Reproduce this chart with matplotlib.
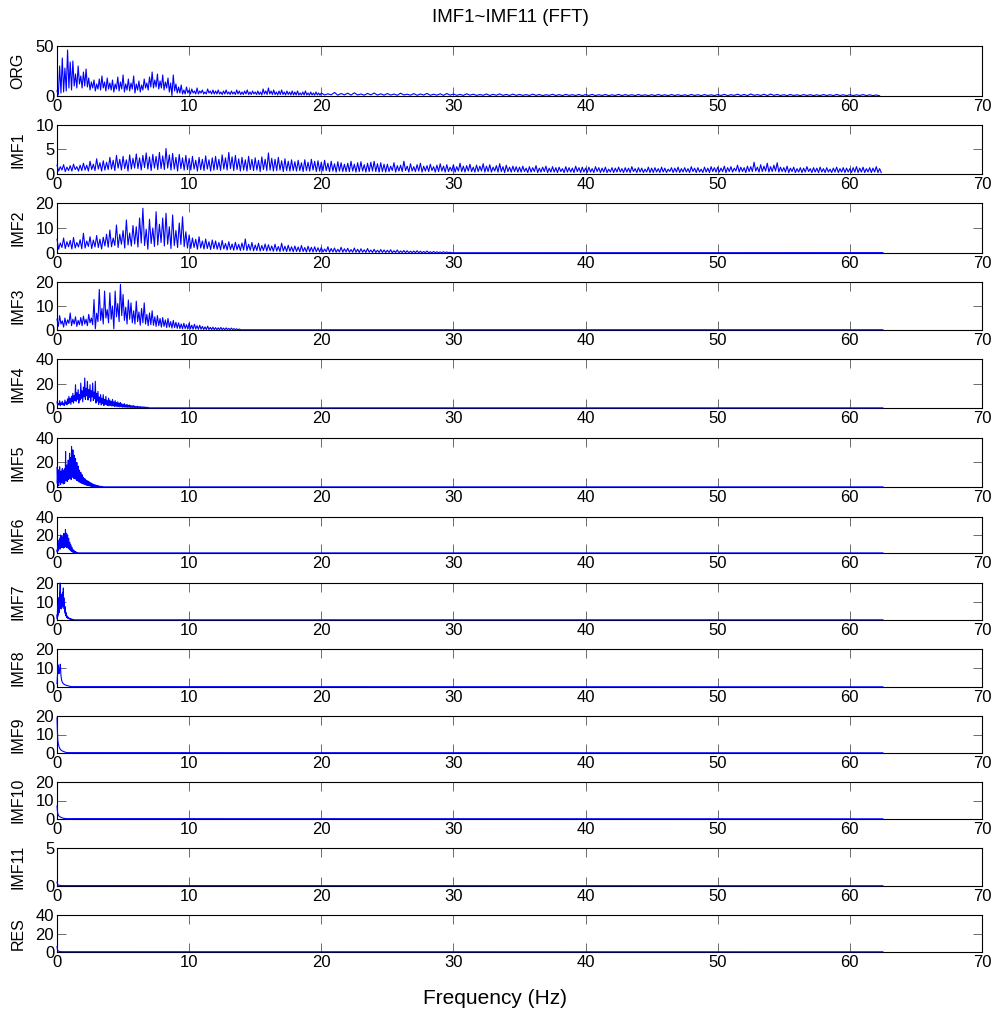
import numpy as np
import matplotlib
matplotlib.use("Agg")
import matplotlib.pyplot as plt

plt.rcParams['font.family'] = ['Liberation Sans', 'DejaVu Sans']

# ---------------- data ----------------
FMAX = 62.5
PANEL_NAMES = ["ORG", "IMF1", "IMF2", "IMF3", "IMF4", "IMF5", "IMF6",
               "IMF7", "IMF8", "IMF9", "IMF10", "IMF11", "RES"]
YMAX = [50, 10, 20, 20, 40, 40, 40, 20, 20, 20, 20, 5, 40]
YTICKS = [[0, 50], [0, 5, 10], [0, 10, 20], [0, 10, 20], [0, 20, 40],
          [0, 20, 40], [0, 20, 40], [0, 10, 20], [0, 10, 20], [0, 10, 20],
          [0, 10, 20], [0, 5], [0, 20, 40]]
XTICKS = [0, 10, 20, 30, 40, 50, 60, 70]

# ORG: peaks / troughs every 0.2 Hz from 0 to 20 Hz, then 0.5 Hz to 62.5 Hz
ORG_STEP = 0.2
ORG_HI = [5, 30, 38, 28, 46, 34, 35, 22, 30, 20,
          24, 27, 18, 14, 16, 12, 17, 20, 14, 18,
          13, 16, 12, 19, 14, 21, 12, 17, 13, 20,
          12, 15, 11, 17, 13, 19, 24, 16, 22, 15,
          21, 14, 18, 13, 21, 12, 9, 11, 6, 9,
          6, 7, 5, 8, 5, 6, 4, 7, 5, 6,
          5, 6, 4, 5, 6, 4, 5, 4, 6, 5,
          4, 5, 6, 4, 5, 4, 5, 4, 7, 5,
          8, 5, 6, 4, 5, 6, 4, 5, 4, 5,
          4, 5, 3, 4, 5, 3, 4, 3, 4, 3]
ORG_LO = [1, 3, 4, 5, 8, 6, 10, 8, 12, 8,
          10, 9, 6, 8, 5, 7, 6, 8, 5, 7,
          6, 4, 7, 5, 7, 4, 6, 5, 7, 3,
          6, 4, 6, 8, 6, 9, 8, 9, 7, 8,
          6, 8, 4, 0.5, 5, 3, 3, 2, 2, 3,
          2, 3, 2, 2, 3, 2, 2, 3, 2, 2,
          2, 2, 1.5, 2, 2, 1.5, 2, 1.5, 2, 1.5,
          1.5, 2, 1.5, 1.5, 2, 1.5, 1.5, 1, 2, 1.5,
          2, 1.5, 1.5, 1, 1.5, 1.5, 1, 1.5, 1, 1,
          1, 1, 1, 1, 1, 0.8, 1, 0.8, 1, 0.8]
ORG_TAIL_HI = [3.0, 2.2, 3.5, 2.5, 2.8, 3.2, 2.0, 2.6, 3.0, 2.2,
               2.5, 2.0, 2.8, 1.8, 2.4, 2.0, 2.6, 1.8, 2.2, 2.5,
               2.0, 1.6, 2.2, 1.8, 1.5, 2.0, 1.7, 2.1, 1.6, 1.9,
               1.6, 1.4, 1.8, 1.5, 1.3, 1.7, 1.4, 1.6, 1.3, 1.5,
               1.4, 1.6, 1.3, 1.5, 1.2, 1.6, 1.4, 1.3, 1.5, 1.2,
               1.3, 1.5, 1.2, 1.4, 1.3, 1.2, 1.5, 1.3, 1.4, 1.2,
               1.4, 1.6, 1.3, 1.8, 1.5, 2.0, 1.4, 1.7, 1.9, 1.5,
               1.3, 1.5, 1.2, 1.4, 1.3, 1.2, 1.4, 1.3, 1.5, 1.2,
               1.3, 1.2, 1.4, 1.2, 1.0]
ORG_TAIL_LO = [1.0, 1.2, 0.8, 1.1, 0.9, 1.0, 0.8, 1.1, 0.9, 0.8,
               0.9, 0.7, 1.0, 0.8, 0.7, 0.9, 0.7, 0.8, 0.6, 0.8,
               0.7, 0.6, 0.8, 0.6, 0.7, 0.5, 0.7, 0.6, 0.5, 0.6,
               0.6, 0.5, 0.6, 0.4, 0.6, 0.5, 0.4, 0.6, 0.5, 0.4,
               0.5, 0.4, 0.5, 0.4, 0.5, 0.4, 0.5, 0.4, 0.5, 0.4,
               0.4, 0.5, 0.4, 0.5, 0.4, 0.4, 0.5, 0.4, 0.5, 0.4,
               0.5, 0.4, 0.6, 0.5, 0.4, 0.6, 0.5, 0.4, 0.6, 0.5,
               0.4, 0.5, 0.4, 0.5, 0.4, 0.4, 0.5, 0.4, 0.5, 0.4,
               0.4, 0.5, 0.4, 0.4, 0.3]

# IMF1: 0.25 Hz from 0 to 25 Hz, then 0.25 Hz to 62.5 Hz
IMF1_STEP = 0.25
IMF1_HI = [1.8, 1.5, 1.9, 1.4, 1.7, 2.0, 1.5, 1.8,
           2.2, 1.8, 2.6, 2.0, 3.1, 2.3, 2.7, 2.4,
           3.4, 2.8, 3.8, 3.0, 3.6, 2.9, 3.9, 3.2,
           4.1, 3.3, 3.8, 4.3, 3.5, 4.0, 3.6, 4.4,
           3.7, 5.2, 3.9, 4.2, 3.4, 4.0, 3.3, 3.8,
           3.2, 3.6, 2.8, 3.4, 3.0, 3.7, 2.9, 3.3,
           3.6, 3.0, 3.9, 3.3, 4.4, 3.5, 3.8, 3.1,
           3.4, 2.9, 3.6, 3.0, 3.3, 2.8, 3.5, 3.0,
           4.3, 3.2, 3.0, 3.4, 2.7, 3.1, 2.6, 2.9,
           2.5, 2.8, 2.3, 2.9, 2.4, 3.0, 2.6, 2.7,
           2.4, 2.8, 2.2, 2.6, 2.1, 2.5, 2.3, 2.0,
           2.2, 2.6, 2.0, 2.3, 2.5, 1.9, 2.2, 2.4,
           2.6, 2.1, 2.3, 2.0]
IMF1_LO = [0.6, 0.8, 0.5, 0.7, 0.6, 0.9, 0.6, 0.7,
           0.8, 0.6, 0.9, 0.7, 1.0, 0.6, 0.8, 0.9,
           1.0, 0.7, 1.2, 0.8, 1.1, 0.6, 1.0, 1.2,
           1.1, 0.8, 1.3, 1.0, 0.7, 1.2, 0.9, 1.1,
           0.9, 1.2, 0.8, 1.0, 0.6, 1.1, 0.8, 0.9,
           0.8, 1.0, 0.6, 0.9, 0.7, 1.0, 0.6, 0.8,
           0.9, 0.7, 1.0, 0.8, 1.1, 0.7, 0.9, 0.6,
           0.8, 0.6, 0.9, 0.7, 0.8, 0.5, 0.9, 0.7,
           0.8, 0.6, 0.7, 0.8, 0.5, 0.7, 0.6, 0.7,
           0.6, 0.7, 0.5, 0.7, 0.6, 0.8, 0.5, 0.6,
           0.6, 0.7, 0.5, 0.6, 0.4, 0.6, 0.5, 0.5,
           0.5, 0.6, 0.4, 0.5, 0.6, 0.4, 0.5, 0.6,
           0.5, 0.4, 0.5, 0.4]
IMF1_TAIL_HI = [2.0, 1.6, 2.3, 1.7, 1.8, 2.6, 1.6, 2.1, 1.5, 1.9,
                2.2, 1.6, 1.7, 2.0, 1.5, 1.8, 2.1, 1.6, 1.9, 1.4,
                1.9, 1.5, 2.2, 1.6, 1.7, 2.0, 1.4, 1.8, 1.6, 2.1,
                1.6, 1.9, 1.4, 1.7, 2.1, 1.5, 1.8, 1.4, 1.6, 1.5,
                1.4, 1.6, 1.2, 1.5, 1.3, 1.7, 1.2, 1.4, 1.6, 1.2,
                1.5, 1.3, 1.4, 1.1, 1.5, 1.3, 1.2, 1.6, 1.3, 1.4,
                1.2, 1.4, 1.1, 1.5, 1.3, 1.2, 1.4, 1.0, 1.3, 1.2,
                1.4, 1.1, 1.3, 1.2, 1.5, 1.1, 1.3, 1.2, 1.0, 1.4,
                1.2, 1.3, 1.1, 1.4, 1.2, 1.0, 1.3, 1.2, 1.4, 1.1,
                1.3, 1.1, 1.5, 1.2, 1.3, 1.0, 1.4, 1.2, 1.5, 1.3,
                1.4, 1.2, 1.6, 1.3, 1.5, 1.2, 1.8, 1.4, 1.3, 1.6,
                1.5, 2.4, 1.4, 1.9, 1.6, 2.2, 1.5, 1.8, 2.3, 1.4,
                1.3, 1.6, 1.2, 1.4, 1.1, 1.3, 1.2, 1.5, 1.1, 1.3,
                1.2, 1.4, 1.1, 1.3, 1.0, 1.2, 1.4, 1.1, 1.3, 1.2,
                1.1, 1.3, 1.5, 1.2, 1.4, 1.1, 1.3, 1.2, 1.5, 1.1]
IMF1_TAIL_LO = [0.5, 0.7, 0.4, 0.6, 0.5, 0.7, 0.4, 0.6, 0.5, 0.6,
                0.4, 0.6, 0.5, 0.7, 0.4, 0.5, 0.6, 0.4, 0.5, 0.6,
                0.4, 0.6, 0.5, 0.4, 0.6, 0.5, 0.4, 0.5, 0.6, 0.4,
                0.5, 0.4, 0.6, 0.4, 0.5, 0.3, 0.5, 0.4, 0.5, 0.4,
                0.4, 0.5, 0.3, 0.4, 0.5, 0.3, 0.4, 0.5, 0.3, 0.4,
                0.4, 0.3, 0.5, 0.3, 0.4, 0.4, 0.3, 0.5, 0.3, 0.4,
                0.3, 0.4, 0.3, 0.5, 0.3, 0.4, 0.3, 0.4, 0.3, 0.4,
                0.4, 0.3, 0.4, 0.3, 0.5, 0.3, 0.4, 0.3, 0.4, 0.3,
                0.3, 0.4, 0.3, 0.4, 0.3, 0.5, 0.3, 0.4, 0.3, 0.4,
                0.4, 0.3, 0.5, 0.3, 0.4, 0.3, 0.4, 0.3, 0.5, 0.4,
                0.4, 0.5, 0.3, 0.5, 0.4, 0.6, 0.4, 0.5, 0.3, 0.5,
                0.5, 0.6, 0.4, 0.5, 0.6, 0.4, 0.5, 0.6, 0.4, 0.5,
                0.4, 0.3, 0.5, 0.3, 0.4, 0.3, 0.4, 0.5, 0.3, 0.4,
                0.3, 0.4, 0.3, 0.4, 0.3, 0.4, 0.3, 0.4, 0.3, 0.4,
                0.3, 0.4, 0.3, 0.4, 0.3, 0.4, 0.3, 0.4, 0.3, 0.3]

# IMF2: 0.25 Hz from 0 to 30 Hz, then flat
IMF2_STEP = 0.25
IMF2_HI = [5.5, 4.0, 6.0, 4.5, 5.0, 6.2, 4.2, 5.3,
           7.9, 4.8, 6.5, 5.2, 7.0, 5.5, 6.3, 7.5,
           9.2, 6.0, 11.2, 7.5, 9.0, 13.2, 8.0, 11.0,
           10.5, 14.0, 17.9, 9.5, 13.5, 10.0, 16.5, 11.5,
           14.0, 15.9, 10.5, 15.2, 9.0, 12.0, 14.5, 8.5,
           7.2, 6.0, 5.5, 6.5, 4.8, 5.6, 4.5, 5.2,
           4.8, 4.2, 5.0, 3.8, 4.5, 3.6, 4.3, 3.5,
           4.0, 5.6, 3.5, 4.2, 3.2, 3.9, 3.0, 3.6,
           3.3, 2.8, 3.5, 2.6, 3.9, 2.7, 3.1, 2.5,
           2.8, 2.4, 3.0, 2.2, 2.7, 2.3, 2.5, 2.1]
IMF2_LO = [1.5, 2.2, 1.8, 2.5, 1.6, 2.0, 2.4, 1.7,
           2.0, 2.6, 1.8, 2.4, 2.2, 1.6, 2.8, 2.3,
           2.5, 3.0, 2.2, 3.5, 2.0, 3.2, 2.8, 3.6,
           2.4, 4.0, 3.0, 1.5, 3.8, 2.6, 3.2, 4.2,
           2.8, 3.5, 1.8, 3.0, 2.2, 3.4, 2.5, 2.0,
           1.8, 2.2, 1.5, 2.0, 1.6, 1.8, 1.4, 1.7,
           1.5, 1.3, 1.6, 1.2, 1.4, 1.1, 1.3, 1.0,
           1.2, 1.0, 1.1, 0.9, 1.0, 0.8, 1.0, 0.8,
           0.9, 0.7, 0.8, 0.6, 0.8, 0.6, 0.7, 0.5,
           0.6, 0.5, 0.6, 0.4, 0.5, 0.4, 0.5, 0.4]
IMF2_TAIL_HI = [2.2, 1.6, 2.5, 1.8, 2.0, 1.5, 2.3, 1.7, 1.9, 1.4,
                2.0, 1.5, 1.7, 1.3, 1.8, 1.2, 1.5, 1.1, 1.4, 1.2,
                1.1, 1.3, 0.9, 1.2, 0.8, 1.0, 0.9, 0.7, 0.8, 0.9,
                0.7, 0.6, 0.8, 0.5, 0.6, 0.5, 0.4, 0.5, 0.4, 0.3]
IMF2_TAIL_LO = [0.4, 0.5, 0.3, 0.4, 0.3, 0.4, 0.3, 0.4, 0.3, 0.3,
                0.3, 0.2, 0.3, 0.2, 0.3, 0.2, 0.2, 0.2, 0.2, 0.2,
                0.2, 0.1, 0.2, 0.1, 0.2, 0.1, 0.1, 0.1, 0.1, 0.1,
                0.1, 0.1, 0.1, 0.1, 0.1, 0.1, 0.1, 0.1, 0.1, 0.1]
IMF2_TAIL_END = 30.0
IMF2_FLOOR = 0.15

# IMF3: 0.2 Hz from 0 to 14 Hz
IMF3_STEP = 0.2
IMF3_HI = [4.5, 6.0, 3.8, 5.0, 4.2, 7.1, 4.5, 5.5, 4.0, 5.2,
           5.8, 4.5, 6.5, 5.0, 12.7, 7.0, 16.9, 9.0, 16.2, 8.5,
           15.5, 10.0, 16.2, 11.0, 19.0, 14.8, 9.5, 12.5, 11.3, 8.0,
           12.0, 7.5, 9.0, 11.3, 6.5, 7.1, 8.0, 5.5, 6.0, 4.8,
           5.2, 4.2, 4.8, 3.5, 4.0, 3.2, 3.0, 2.5, 2.8, 2.2,
           2.9, 2.0, 2.4, 1.8, 2.0, 1.5, 1.3, 1.6, 1.1, 1.2,
           1.0, 0.9, 1.1, 0.8, 0.9, 0.7, 0.8, 0.6, 0.5, 0.4]
IMF3_LO = [1.5, 2.5, 1.2, 2.0, 2.8, 1.8, 2.5, 1.5, 2.2, 1.8,
           2.5, 1.8, 3.0, 2.2, 0.5, 3.5, 4.0, 2.5, 5.0, 3.0,
           4.5, 0.5, 5.5, 3.5, 6.0, 4.0, 2.5, 4.5, 3.0, 2.5,
           3.5, 2.0, 3.0, 2.5, 1.8, 2.2, 2.0, 1.5, 1.8, 1.2,
           1.5, 1.0, 1.2, 0.8, 1.0, 0.7, 0.6, 0.5, 0.6, 0.4,
           0.5, 0.3, 0.4, 0.3, 0.3, 0.2, 0.2, 0.2, 0.2, 0.1,
           0.1, 0.1, 0.1, 0.1, 0.1, 0.1, 0.1, 0.1, 0.1, 0.1]
IMF3_FLOOR = 0.1

# IMF4: 0.1 Hz from 0 to 7 Hz
IMF4_STEP = 0.1
IMF4_HI = [5.0, 3.5, 6.0, 4.2, 5.5, 4.0, 6.5, 5.0, 7.5, 9.5,
           8.0, 9.5, 12.0, 10.0, 19.0, 12.5, 15.0, 11.0, 20.4, 14.0,
           17.0, 24.5, 16.0, 21.8, 15.0, 19.0, 14.0, 20.4, 13.0, 21.8,
           12.0, 13.6, 9.0, 11.0, 8.0, 10.9, 7.0, 9.5, 6.0, 8.0,
           6.5, 5.5, 7.0, 5.0, 6.0, 4.5, 5.0, 4.0, 4.5, 3.5,
           3.0, 3.5, 2.5, 3.0, 2.2, 2.5, 2.0, 1.8, 2.0, 1.5,
           1.3, 1.5, 1.1, 1.2, 0.9, 1.0, 0.8, 0.7, 0.6, 0.5]
IMF4_LO = [2.0, 2.8, 1.8, 3.0, 2.5, 2.0, 3.2, 2.5, 3.5, 4.0,
           3.0, 5.0, 4.0, 6.0, 5.5, 7.0, 4.0, 6.5, 8.0, 5.0,
           9.0, 7.0, 10.0, 6.5, 8.5, 5.5, 9.0, 6.0, 7.5, 4.0,
           5.5, 3.0, 4.5, 2.5, 3.5, 2.0, 3.0, 2.5, 2.0, 1.8,
           2.0, 1.5, 1.8, 1.2, 1.5, 1.0, 1.2, 0.8, 1.0, 0.7,
           0.8, 0.6, 0.7, 0.5, 0.5, 0.4, 0.4, 0.3, 0.3, 0.3,
           0.2, 0.2, 0.2, 0.2, 0.2, 0.2, 0.1, 0.1, 0.1, 0.1]
IMF4_FLOOR = 0.1

# IMF5: 0.05 Hz from 0 to 3.5 Hz
IMF5_STEP = 0.05
IMF5_HI = [16.0, 10.0, 14.0, 8.0, 16.5, 11.0, 13.0, 9.0, 15.0, 12.0,
           13.8, 10.0, 15.0, 29.0, 12.0, 18.0, 14.0, 22.0, 16.0, 27.6,
           19.0, 24.0, 33.0, 20.0, 30.3, 18.0, 26.0, 16.0, 23.4, 15.0,
           20.0, 13.0, 17.0, 11.0, 13.8, 10.0, 12.0, 8.5, 10.0, 7.5,
           8.0, 6.9, 6.0, 6.5, 5.0, 5.5, 4.0, 4.8, 3.5, 4.1,
           3.0, 3.5, 2.5, 2.8, 2.0, 2.2, 1.6, 1.8, 1.4, 1.5,
           1.2, 1.0, 0.9, 0.8, 0.7, 0.6, 0.5, 0.5, 0.4, 0.3]
IMF5_LO = [3.0, 5.0, 1.0, 6.0, 4.0, 2.0, 7.0, 3.5, 5.5, 2.5,
           6.0, 3.0, 7.0, 5.0, 8.0, 4.5, 9.0, 6.0, 10.0, 7.0,
           9.0, 6.0, 11.0, 8.0, 10.0, 7.0, 9.5, 6.5, 8.0, 5.5,
           7.0, 5.0, 6.0, 4.0, 5.0, 3.5, 4.0, 3.0, 3.5, 2.5,
           2.8, 2.0, 2.2, 1.8, 1.6, 1.5, 1.3, 1.2, 1.0, 1.0,
           0.8, 0.8, 0.6, 0.6, 0.5, 0.5, 0.4, 0.4, 0.3, 0.3,
           0.3, 0.2, 0.2, 0.2, 0.2, 0.2, 0.1, 0.1, 0.1, 0.1]
IMF5_FLOOR = 0.1

# IMF6: 0.04 Hz from 0 to 1.6 Hz
IMF6_STEP = 0.04
IMF6_HI = [3.0, 5.5, 8.0, 10.0, 14.5, 12.0, 17.0, 20.0, 15.0, 18.0,
           14.0, 18.0, 16.0, 21.8, 17.0, 20.0, 26.0, 19.0, 22.0, 16.4,
           20.0, 14.0, 16.4, 11.0, 12.0, 8.5, 9.0, 5.5, 6.5, 4.0,
           4.0, 2.5, 2.8, 1.8, 1.6, 1.2, 1.0, 0.8, 0.6, 0.5]
IMF6_LO = [1.0, 2.0, 3.0, 4.0, 5.0, 6.0, 4.5, 7.0, 6.0, 8.0,
           6.0, 7.5, 5.5, 8.0, 6.5, 9.0, 7.0, 8.5, 6.0, 7.0,
           6.5, 5.0, 5.5, 4.0, 3.5, 3.0, 2.5, 2.0, 1.5, 1.2,
           1.0, 0.8, 0.6, 0.5, 0.4, 0.3, 0.3, 0.2, 0.2, 0.1]
IMF6_FLOOR = 0.1

# IMF7: 0.04 Hz from 0 to 1.28 Hz
IMF7_STEP = 0.04
IMF7_HI = [2.7, 5.0, 8.0, 12.0, 10.0, 15.0, 20.0, 13.0,
           11.0, 14.0, 10.5, 15.0, 17.3, 12.0, 9.0, 7.3,
           5.0, 4.0, 2.7, 2.2, 1.8, 1.5, 1.2, 1.0,
           0.9, 0.8, 0.6, 0.5, 0.4, 0.4, 0.3, 0.3]
IMF7_LO = [0.5, 2.0, 3.0, 5.0, 4.0, 6.0, 8.0, 7.0,
           6.0, 8.0, 7.0, 9.0, 8.0, 6.0, 4.5, 3.5,
           2.5, 2.0, 1.5, 1.2, 1.0, 0.8, 0.7, 0.6,
           0.5, 0.4, 0.3, 0.3, 0.2, 0.2, 0.2, 0.1]
IMF7_FLOOR = 0.1

# IMF8 .. RES: smooth low-frequency spectra (frequency, amplitude)
IMF8_F = [0.0, 0.05, 0.1, 0.15, 0.2, 0.25, 0.3, 0.35, 0.4, 0.45, 0.5, 0.55,
          0.6, 0.65, 0.7, 0.75, 0.8, 0.85, 0.9, 0.95, 1.0, 1.05, 1.1, 1.15]
IMF8_A = [1.8, 8.0, 11.6, 7.0, 9.0, 12.0, 6.0, 3.6, 2.5, 2.0, 1.6, 1.4,
          1.2, 1.0, 0.9, 0.8, 0.7, 0.6, 0.5, 0.4, 0.3, 0.3, 0.2, 0.2]
IMF8_FLOOR = 0.1

IMF9_F = [0.0, 0.03, 0.06, 0.1, 0.15, 0.2, 0.25, 0.3, 0.4, 0.5, 0.6, 0.7, 0.8]
IMF9_A = [19.0, 12.0, 7.0, 5.0, 3.5, 2.6, 2.0, 1.6, 1.1, 0.8, 0.5, 0.3, 0.2]
IMF9_FLOOR = 0.1

IMF10_F = [0.0, 0.03, 0.06, 0.1, 0.15, 0.2, 0.3, 0.4, 0.5, 0.7]
IMF10_A = [7.0, 4.5, 3.0, 2.1, 1.6, 1.3, 0.9, 0.6, 0.4, 0.2]
IMF10_FLOOR = 0.1

IMF11_F = [0.0, 0.03, 0.06, 0.1, 0.2, 0.4]
IMF11_A = [0.5, 0.3, 0.2, 0.12, 0.08, 0.05]
IMF11_FLOOR = 0.03

RES_F = [0.0, 0.03, 0.06, 0.1, 0.2, 0.4]
RES_A = [6.0, 3.0, 1.8, 1.0, 0.5, 0.3]
RES_FLOOR = 0.2


# ---------------- helpers ----------------
def zigzag(hi, lo, f0, step):
    xs, ys = [], []
    for i, (h, l) in enumerate(zip(hi, lo)):
        xs += [f0 + i * step, f0 + (i + 0.5) * step]
        ys += [h, l]
    return xs, ys


def band_series(hi, lo, step, tail_hi=None, tail_lo=None, tail_end=FMAX,
                floor=None):
    xs, ys = zigzag(hi, lo, 0.0, step)
    f_end = len(hi) * step
    if tail_hi is not None:
        tstep = (tail_end - f_end) / len(tail_hi)
        tx, ty = zigzag(tail_hi, tail_lo, f_end, tstep)
        xs += tx
        ys += ty
    if floor is not None:
        xs += [FMAX]
        ys += [floor]
    return xs, ys


def curve_series(f, a, floor):
    return list(f) + [FMAX], list(a) + [floor]


SERIES = [
    band_series(ORG_HI, ORG_LO, ORG_STEP, ORG_TAIL_HI, ORG_TAIL_LO),
    band_series(IMF1_HI, IMF1_LO, IMF1_STEP, IMF1_TAIL_HI, IMF1_TAIL_LO),
    band_series(IMF2_HI, IMF2_LO, IMF2_STEP, IMF2_TAIL_HI, IMF2_TAIL_LO,
                IMF2_TAIL_END, IMF2_FLOOR),
    band_series(IMF3_HI, IMF3_LO, IMF3_STEP, floor=IMF3_FLOOR),
    band_series(IMF4_HI, IMF4_LO, IMF4_STEP, floor=IMF4_FLOOR),
    band_series(IMF5_HI, IMF5_LO, IMF5_STEP, floor=IMF5_FLOOR),
    band_series(IMF6_HI, IMF6_LO, IMF6_STEP, floor=IMF6_FLOOR),
    band_series(IMF7_HI, IMF7_LO, IMF7_STEP, floor=IMF7_FLOOR),
    curve_series(IMF8_F, IMF8_A, IMF8_FLOOR),
    curve_series(IMF9_F, IMF9_A, IMF9_FLOOR),
    curve_series(IMF10_F, IMF10_A, IMF10_FLOOR),
    curve_series(IMF11_F, IMF11_A, IMF11_FLOOR),
    curve_series(RES_F, RES_A, RES_FLOOR),
]

# ---------------- layout (pixels in a 993 x 1010 canvas) ----------------
W, H = 993, 1010
LEFT_PX, RIGHT_PX = 57, 982
TOPS_PX = [46, 125, 203, 282, 359, 438, 517, 583, 649, 716, 782, 848, 915]
BOTS_PX = [96, 174, 253, 330, 408, 487, 553, 620, 687, 753, 819, 886, 952]

fig = plt.figure(figsize=(W / 100, H / 100), dpi=100)
fig.patch.set_facecolor('white')

for i, name in enumerate(PANEL_NAMES):
    l = LEFT_PX / W
    b = 1 - BOTS_PX[i] / H
    w = (RIGHT_PX - LEFT_PX) / W
    h = (BOTS_PX[i] - TOPS_PX[i]) / H
    ax = fig.add_axes([l, b, w, h])
    xs, ys = SERIES[i]
    ax.plot(xs, ys, color='#0000ff', lw=0.8, zorder=3, clip_on=False)
    ax.set_xlim(0, 70)
    ax.set_ylim(0, YMAX[i])
    ax.set_xticks(XTICKS)
    ax.set_yticks(YTICKS[i])
    ax.tick_params(direction='in', length=6.5, width=0.6, color='#555555',
                   top=True, right=True, labelsize=12, pad=2,
                   labelcolor='black')
    for sp in ax.spines.values():
        sp.set_linewidth(0.8)
        sp.set_color('black')
    ax.set_ylabel(name, fontsize=11.5)
    ax.yaxis.set_label_coords(-0.034, 0.5)

fig.text(510 / W, 1 - 18 / H, "IMF1~IMF11 (FFT)", ha='center', va='center',
         fontsize=13.5)
fig.text(495 / W, 1 - 998 / H, "Frequency (Hz)", ha='center', va='center',
         fontsize=15)

fig.savefig("out.png", dpi=100, facecolor='white')
